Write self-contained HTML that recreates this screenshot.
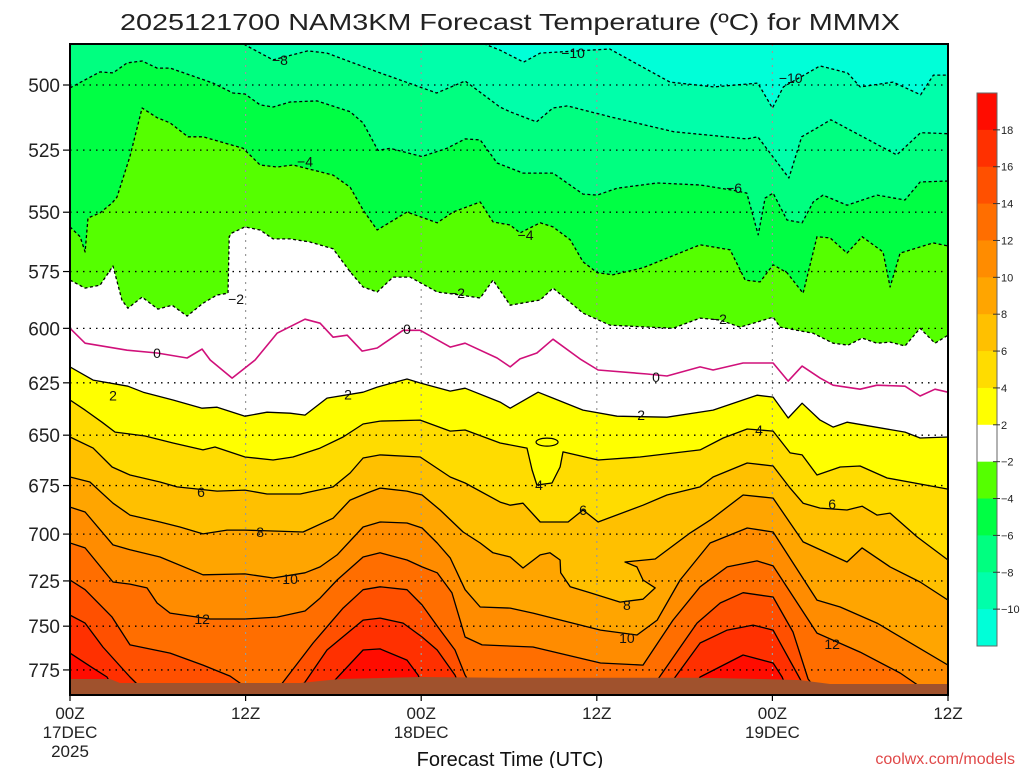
<!DOCTYPE html>
<html><head><meta charset="utf-8"><style>
html,body{margin:0;padding:0;background:#fff;}
svg{display:block;font-family:"Liberation Sans","DejaVu Sans",sans-serif;}
</style></head><body>
<svg id="chart" width="1024" height="768" viewBox="0 0 1024 768" xmlns="http://www.w3.org/2000/svg">
<rect x="0" y="0" width="1024" height="768" fill="#fff"/>
<text x="510" y="30" text-anchor="middle" font-size="23" fill="#222" textLength="780" lengthAdjust="spacingAndGlyphs">2025121700 NAM3KM Forecast Temperature (ºC) for MMMX</text>
<defs><clipPath id="plotclip"><rect x="70" y="44" width="878" height="651"/></clipPath></defs>
<g id="fills" clip-path="url(#plotclip)"></g>
<g id="grid"></g>
<g id="lines" clip-path="url(#plotclip)"></g>
<g id="labels"></g>
<rect x="70" y="44" width="878" height="651" fill="none" stroke="#000" stroke-width="2"/>
<g id="yaxis"></g>
<g id="xaxis"></g>
<text x="510" y="766" text-anchor="middle" font-size="20" fill="#111">Forecast Time (UTC)</text>
<text x="1015" y="764" text-anchor="end" font-size="16" fill="#e04848">coolwx.com/models</text>
<g id="cbar"></g>
</svg>
<script>
const levels = [-10,-8,-6,-4,-2,0,2,4,6,8,10,12,14,16,18];
const bandColors = ["#00ffd8","#00ffaa","#00ff80","#00ff44","#55ff00","#ffffff","#ffffff","#ffff00","#ffdc00","#ffc000","#ffa500","#ff8c00","#ff6e00","#ff5000","#ff3000","#ff0c00"];
const cbarLabels = ["18","16","14","12","10","8","6","4","2","\u22122","\u22124","\u22126","\u22128","\u221210"];
const cbarColors = ["#ff0c00","#ff3000","#ff5000","#ff6e00","#ff8c00","#ffa500","#ffc000","#ffdc00","#ffff00","#ffffff","#55ff00","#00ff44","#00ff80","#00ffaa","#00ffd8"];
const yTicks = [500,525,550,575,600,625,650,675,700,725,750,775];
const xTickHours = [0,12,24,36,48,60];
const xTickLabels = [["00Z","17DEC","2025"],["12Z"],["00Z","18DEC"],["12Z"],["00Z","19DEC"],["12Z"]];

// isotherm lines: forecast hours and pressures (hPa)
const hM10 = [0,25,28.38,29.38,31,32.13,36.88,41,44,47,48,48.75,51.25,53.13,54,56.25,58.13,59,60];
const pM10 = [470,478,485,487.1,491.5,488.2,486.7,498.9,500.7,499.3,508.7,500.7,492.9,495.5,500.7,498.9,503.7,496.3,496.3];
const hM8 = [0,11.25,12,13.88,16.25,17.56,21.19,25.06,27,29.38,30.06,31.88,33,34,36.88,41.25,46.25,47,49.13,50,52,56.5,58.13,60];
const pM8 = [479.7,482.7,485.3,490.7,487.4,488.2,495.5,503,498.5,508.3,510.1,514,508.7,507.9,512,517.8,520.6,519.8,536.1,519.8,513.2,526.9,518.2,518.6];
const hM6 = [0,2.05,2.94,3.9,4.93,5.95,6.84,9.78,11.14,11.96,12.99,13.88,15.04,16.88,19.14,20.03,21.05,21.88,24.05,25.76,27,28.03,29.19,30.96,33.01,35.06,36.03,37.39,40.13,43.06,45.31,46.25,47.03,47.5,48.05,49,50.03,50.79,51.46,53.1,55.15,57.06,58.09,60];
const pM6 = [501.1,495.1,495.5,491.8,491.1,493.7,493.7,499.3,503.0,503.4,507.5,508.3,506.4,506.0,510.1,514.4,525.1,524.3,527.5,524.3,520.6,521,530.1,534.1,534.1,542.6,543,540.2,538.1,538.9,541,542.2,559.4,544.2,542.2,553.2,554.4,545.8,543,547.1,543,545,537.7,537.3];
const hM4 = [0,0.69,1.03,1.23,2.05,2.88,3.21,4.1,4.93,5.95,6.84,8.06,9.09,11.83,12.99,14.15,15.24,17.98,19.14,20.03,20.99,23.03,25.09,26.18,28.03,28.91,30.08,30.75,32.13,33.01,34.18,35.06,36.03,37.11,39.16,43.06,45.11,46.14,47.16,48.05,49,50.1,51.05,51.94,53.1,54.13,55.56,56.04,56.73,58.98,60];
const pM4 = [556.1,560.2,566.6,552.4,550.3,546.2,543.8,527.4,508.7,512.4,514.4,519.8,519.8,524.3,530.9,531.7,530.9,534.9,539.8,549.1,557.4,549.9,554.4,549.9,545.8,554.0,555.3,558.6,554.4,556.1,561.5,570.8,575.5,576.4,573.4,563.6,565.7,578.7,579.5,572.1,575.5,584.4,560.2,560.7,567.1,560.2,566.6,581.7,567.1,562.8,564.1];
const hM2 = [0,1.03,2.05,2.94,3.55,3.96,4.93,6.01,6.98,8,9.09,10.05,10.8,10.88,11.08,11.96,12.99,13.88,15.04,16.4,17.98,19.14,20.03,20.99,22.08,23.24,25.09,26.65,28.03,28.91,30.08,32.13,33.01,35.06,36.9,41.21,43.06,44.43,45.79,48.05,48.53,50.78,52.15,53.18,54.13,55.15,56.04,57.06,58.09,59.11,60];
const pM2 = [578.7,582.2,580.9,572.6,587.4,591.0,586.1,591.4,589.7,594.5,588.8,585.2,584.4,560.2,558.6,556.1,557.4,561.1,561.1,562.4,565.3,575.1,581.7,583.9,577.4,577.4,583.9,585.2,586.5,578.7,589.7,587.4,582.2,593.2,598.6,600,595.4,596.3,599.5,595.0,599.5,602.2,606.7,607.6,604.4,606.7,606.2,608.0,600.0,606.7,603.1];
const h0 = [0,1.03,3.9,5.95,8,9.03,9.58,11.08,12.65,14.15,16.06,17.09,17.98,18.94,19.96,20.99,22.76,23.93,25.98,27,29.19,30.08,30.75,31.91,33.01,34.85,36.09,39.44,40.8,43.06,43.95,46,48.05,49.08,50.03,51.26,52.15,53.99,55.15,57.06,58.09,59.11,60];
const p0 = [600.0,606.7,609.9,611.2,613.5,609.4,614.4,622.8,614.4,602.2,595.9,597.7,604.0,603.1,610.3,608.9,600.9,600.9,608.5,606.7,613.5,617.6,613.9,611.2,604.9,613.9,619.0,620.9,621.8,617.6,619.0,615.8,615.8,624.2,617.2,622.8,626.1,628.0,626.1,626.6,631.2,628.0,629.4];
const h2 = [0,1.58,3.96,5,7.04,9.03,10.05,11.96,13.46,15.04,16.06,17.56,20.03,20.99,23.03,23.93,25.98,27,29.39,30.08,31.99,33.01,35.06,37.39,40.8,43.95,46.95,48.05,49.08,50.03,51.26,52.15,53.1,57.06,58.09,60];
const p2 = [617.6,623.7,626.6,629.4,633.1,637.0,636.5,640.8,638.9,639.4,640.3,632.2,629.4,627.0,623.2,625.1,628.9,627.5,634.1,637.0,629.4,632.2,637.9,640.8,641.3,637.9,630.8,631.7,641.7,634.6,642.7,646.1,643.7,648.5,651.4,650.9];
const h4 = [0,1.03,2.19,3.08,5.13,7.04,9.09,9.91,11.96,13.88,15.24,17.09,18.66,20.03,21.19,23.93,25.98,27,29.39,31.23,31.58,31.91,32.94,33.49,33.69,36.09,38.95,43.06,44.64,46.28,48.05,49.21,50.03,51.05,52.63,53.99,55.84,60];
const p4 = [633.1,637.9,643.7,648.5,650.4,653.8,657.2,655.8,660.7,662.2,660.7,656.3,650.9,644.6,643.2,642.7,648.0,647.5,653.8,656.3,667.2,674.7,673.7,665.7,658.2,662.2,660.7,657.2,651.4,647.0,648.0,658.7,659.7,669.7,665.7,665.2,671.2,676.8];
const h6 = [0,1.58,2.88,4.1,6.15,7.31,10.05,11.96,13.46,15.73,17.98,19.14,20.03,21.19,23.93,25.98,27,29.39,30.08,30.96,32.13,34.04,35.06,36.09,39.16,40.8,43.06,43.95,46.28,48.05,49.21,50.1,51.26,53.1,54.13,55.15,56.04,57.89,60];
const p6 = [650.9,656.3,665.7,669.7,673.2,675.7,677.8,677.3,679.3,679.3,675.7,668.7,661.2,659.7,660.7,670.7,673.7,683.4,685.0,684.0,693.7,693.7,687.5,693.7,685.0,679.8,675.7,670.7,663.7,665.2,676.3,684.0,686.5,687.5,685.5,690.1,689.1,701.5,713.7];
const h8 = [0,1.36,2.94,4.1,6.15,7.51,9.09,10.73,11.96,15.93,17.98,19.14,20.3,21.19,23.03,24.06,25.29,26.86,28.03,28.91,30.08,30.96,32.13,32.8,33.49,33.53,34.18,35.54,37.59,39.16,39.99,39.16,38.74,37.93,39.99,42.38,43.75,46,48.05,50.1,53.1,54.13,56.04,58.09,60];
const p8 = [670.7,673.2,684.0,690.1,693.7,696.3,699.9,697.9,697.9,698.9,691.7,682.4,678.8,676.3,677.8,679.8,687.5,698.9,704.7,709.9,712.1,718.0,711.0,709.9,713.7,720.6,728.2,731.4,736.6,735.0,728.8,724.5,717.4,714.8,713.2,699.4,692.7,679.8,681.4,704.1,714.8,707.3,717.4,725.6,735.5];
const h10 = [0,1.03,2.94,4.1,6.15,9.09,11.96,13.88,16.06,17.09,18.25,20.03,21.19,23.03,24.06,25.09,25.98,27,28.03,30.08,31.64,36.25,38.75,40.13,41.69,43.74,46.28,48.05,51.05,52.63,55.15,60];
const p10 = [686.0,688.5,705.7,708.3,712.1,721.7,721.2,723.4,720.6,717.4,711.0,696.3,693.7,694.2,696.8,704.7,712.6,729.8,739.3,739.9,742.7,752.2,755.0,746.6,724.5,704.7,696.8,698.9,735.5,739.3,748.3,772.2];
const h12 = [0,1.03,2.94,4.1,5.26,5.95,6.84,9.58,11.96,14.15,16.06,17.09,18.25,20.03,21.19,23.03,24.06,25.09,26.1,27,28.16,31.64,36.25,39.16,41.21,43.06,44.91,46.95,48.05,51.05,53.99,56.73,58.44,60];
const p12 = [704.7,707.3,725.6,726.7,728.8,737.1,742.7,746.0,746.0,744.9,741.5,734.4,724.5,712.1,709.9,713.7,717.4,720.6,731.4,756.1,760.6,761.8,771.0,772.2,746.6,728.2,717.4,714.2,716.9,753.9,764.7,776.8,786.8,792.7];
const h14 = [0,1.03,2.88,4.1,6.84,9.09,10.94,12.3,14.01,14.56,16.61,18.66,20.03,21.19,23.03,24.06,25.15,26.31,27,27.68,38.95,40.19,42.85,44.43,46,48.05,49.41,50.44,51.26,60];
const p14 = [724.5,729.8,744.9,760.6,765.3,772.2,778.6,786.8,788,782.1,759.5,739.9,729.8,728.2,729.8,738.2,750.5,763.5,778.0,787.9,787.9,780.3,748.3,737.1,731.4,733.8,753.3,780.3,789.6,792.7];
const h16 = [0,1.03,2.25,4.1,5.13,15.38,16.06,17.56,20.03,21.19,22.76,24.06,25.09,26.31,26.79,40.66,41.21,43.06,44.91,46.68,48.05,49.89,50.44,60];
const p16 = [743.8,748.3,761.8,779.1,787.9,787.9,782.1,763.5,746.6,745.5,748.3,756.1,763.5,778.0,787.9,787.9,780.9,759.5,752.2,749.4,752.2,780.3,789.6,792.7];
const h18 = [0,1.58,2.53,3.08,17.43,17.98,20.03,21.19,23.03,23.79,24.26,42.38,43.06,46,48.05,48.66,49.08,60];
const p18 = [765.3,774.0,779.1,787.9,787.9,782.1,763.5,762.9,769.3,778.0,787.9,787.9,779.1,766.4,771.0,779.1,787.9,792.7];
const lineHours = [hM10,hM8,hM6,hM4,hM2,h0,h2,h4,h6,h8,h10,h12,h14,h16,h18];
const linePres = [pM10,pM8,pM6,pM4,pM2,p0,p2,p4,p6,p8,p10,p12,p14,p16,p18];

// small closed 4C contour (center hour, pressure)
const ovalHour = [32.6];
const ovalPres = [653.4];

// surface (ground) pressure
const groundHours = [0,2.74,3.41,15.73,18.46,23.93,29.39,36.23,43.06,47.16,49.89,51.94,60];
const groundPres = [780.3,780.3,782.6,782.6,780.3,779.1,779.6,779.6,779.6,780.3,780.9,783.2,783.2];

// contour labels
const labelLevels = [-8,-10,-10,-4,-6,-4,-2,-2,-2,0,0,0,2,2,2,4,4,6,6,6,8,8,10,10,12,12];
const labelHours = [14.35,34.38,49.25,16.06,45.38,31.13,11.35,26.45,44.35,5.95,23.03,40.05,2.94,19,39.03,32.05,47.09,8.95,35.06,52.08,12.99,38.06,15.04,38.06,9.03,52.08];
const labelPres = [490.7,488.2,497.4,529.4,540.2,559.4,587,584.4,595.9,611.2,600.4,622.3,630.9,630.4,640.3,674.7,647.5,678.3,687.5,684.5,698.9,738.2,724.0,756.6,746.0,760.1];

const NS = "http://www.w3.org/2000/svg";
const X0 = 70, X1 = 948, Y0 = 44, Y1 = 695, HMAX = 60;
function xs(h){ return X0 + h * (X1 - X0) / HMAX; }
function ys(p){ return 85 + 1334.7 * Math.log(p / 500); }
function mk(tag, attrs, parent){
  const e = document.createElementNS(NS, tag);
  for (const k in attrs) e.setAttribute(k, attrs[k]);
  parent.appendChild(e);
  return e;
}
function linePath(hs, ps){
  let d = "";
  for (let i = 0; i < hs.length; i++) d += (i ? "L" : "M") + xs(hs[i]).toFixed(1) + "," + ys(ps[i]).toFixed(1);
  return d;
}
const fills = document.getElementById("fills");
const bg = mk("rect", {x:X0, y:Y0, width:X1-X0, height:Y1-Y0, fill:bandColors[0]}, fills);


for (let i = 0; i < levels.length; i++){
  const d = linePath(lineHours[i], linePres[i]) + "L" + (X1+20) + "," + (Y1+20) + "L" + (X0-20) + "," + (Y1+20) + "Z";
  const e = mk("path", {d:d, fill:bandColors[i+1], stroke:"none"}, fills);
  
  
}
// grid
const grid = document.getElementById("grid");
yTicks.forEach(p => {
  const l = mk("line", {x1:X0, x2:X1, y1:ys(p), y2:ys(p), stroke:"#000", "stroke-width":1.3, "stroke-dasharray":"1.5,5"}, grid);
  
  
});
[12,24,36,48].forEach(h => {
  const l = mk("line", {x1:xs(h), x2:xs(h), y1:Y0, y2:Y1, stroke:"#999", "stroke-width":1.2, "stroke-dasharray":"2,5"}, grid);
  
  
});
// oval
const linesG = document.getElementById("lines");
for (let i = 0; i < ovalHour.length; i++){
  const o = mk("ellipse", {cx:xs(ovalHour[i]), cy:ys(ovalPres[i]), rx:11, ry:4, fill:"#ffff00", stroke:"#000", "stroke-width":1.2}, linesG);
  
  
}
// contour lines
for (let i = 0; i < levels.length; i++){
  const lv = levels[i];
  const attrs = {d:linePath(lineHours[i], linePres[i]), fill:"none", "stroke-width":1.3, "stroke-linejoin":"round"};
  if (lv < 0){ attrs.stroke = "#000"; attrs["stroke-dasharray"] = "3,2.5"; }
  else if (lv === 0){ attrs.stroke = "#d0107a"; attrs["stroke-width"] = 1.6; }
  else attrs.stroke = "#000";
  const e = mk("path", attrs, linesG);
  
  
}
// ground over lines
{
  let d = linePath(groundHours, groundPres) + "L" + X1 + "," + (Y1+5) + "L" + X0 + "," + (Y1+5) + "Z";
  const g = mk("path", {d:d, fill:"#a0522d"}, linesG);
  
  
}
// labels
const labelsG = document.getElementById("labels");
for (let i = 0; i < labelLevels.length; i++){
  const lv = labelLevels[i];
  const t = mk("text", {x:xs(labelHours[i]), y:ys(labelPres[i]) + 5, "text-anchor":"middle", "font-size":14, fill:"#111"}, labelsG);
  t.textContent = lv < 0 ? "\u2212" + Math.abs(lv) : String(lv);
  
  
}
// y axis
const yaxis = document.getElementById("yaxis");
yTicks.forEach(p => {
  const tk = mk("line", {x1:X0-7, x2:X0, y1:ys(p), y2:ys(p), stroke:"#000", "stroke-width":1.2}, yaxis);
  
  
  const t = mk("text", {x:60, y:ys(p)+7, "text-anchor":"end", "font-size":19, fill:"#222"}, yaxis);
  t.textContent = String(p);
  
  
});
// x axis
const xaxis = document.getElementById("xaxis");
xTickHours.forEach((h, i) => {
  const tk = mk("line", {x1:xs(h), x2:xs(h), y1:Y1, y2:Y1+6, stroke:"#000", "stroke-width":1.2}, xaxis);
  
  
  xTickLabels[i].forEach((s, j) => {
    const t = mk("text", {x:xs(h), y:719 + j*19, "text-anchor":"middle", "font-size":17, fill:"#222"}, xaxis);
    t.textContent = s;
    
    
  });
});
// colorbar
const cbar = document.getElementById("cbar");
const CB0 = 93, CB1 = 646, CBX = 977, CBW = 20;
const binH = (CB1 - CB0) / cbarColors.length;
cbarColors.forEach((c, i) => {
  const r = mk("rect", {x:CBX, y:CB0 + i*binH, width:CBW, height:binH+0.5, fill:c}, cbar);
  
  
});
const fr = mk("rect", {x:CBX, y:CB0, width:CBW, height:CB1-CB0, fill:"none", stroke:"#666", "stroke-width":1}, cbar);


cbarLabels.forEach((s, i) => {
  const yy = CB0 + (i+1)*binH;
  const tk = mk("line", {x1:CBX+CBW-4, x2:CBX+CBW+3, y1:yy, y2:yy, stroke:"#333", "stroke-width":1}, cbar);
  
  
  const t = mk("text", {x:1001, y:yy+4, "font-size":11, fill:"#222"}, cbar);
  t.textContent = s;
  
  
});
</script>
</body></html>
